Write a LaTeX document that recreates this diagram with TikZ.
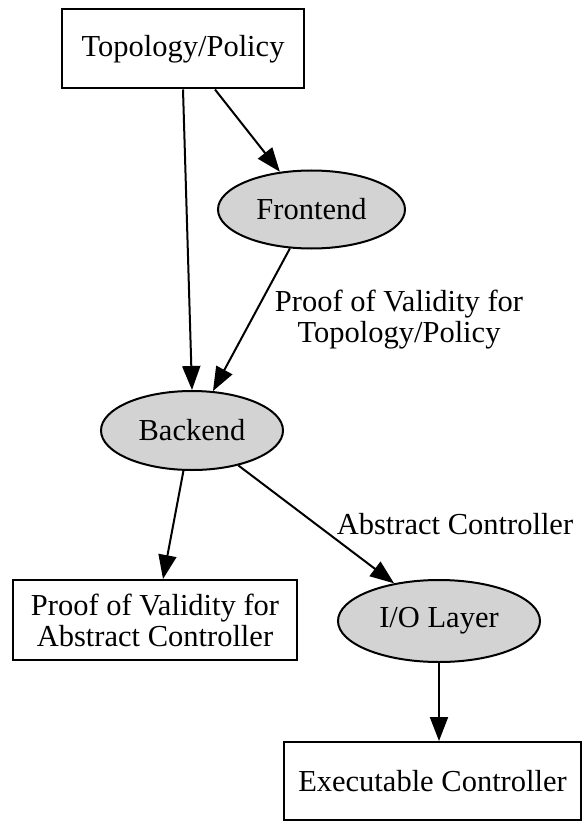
\documentclass[tikz,border=0pt]{standalone}
\usepackage{fontspec}
\setmainfont{Liberation Serif}
\usetikzlibrary{shapes.geometric,arrows.meta}
\definecolor{gvgray}{HTML}{D3D3D3}
\tikzset{
  boxnode/.style={draw, line width=2pt, rectangle, inner sep=0pt, align=center},
  ellnode/.style={draw, line width=2pt, ellipse, fill=gvgray, inner sep=0pt, align=center},
  edge/.style={line width=2pt, -{Triangle[length=24pt,width=18pt]}},
  elabel/.style={align=center, inner sep=0pt},
}
\begin{document}
\begin{tikzpicture}[x=1pt,y=-1pt,font=\fontsize{30.5}{31}\selectfont]
\useasboundingbox (0,0) rectangle (586,821);
\node[boxnode, minimum width=242pt, minimum height=79pt] (topo) at (183,49) {Topology/Policy};
\node[ellnode, minimum width=187pt, minimum height=78pt] (front) at (311.5,209.5) {Frontend};
\node[ellnode, minimum width=182pt, minimum height=79pt] (back) at (192,430.5) {Backend};
\node[boxnode, minimum width=284pt, minimum height=80pt] (proofac) at (155,620) {Proof of Validity for\\Abstract Controller};
\node[ellnode, minimum width=202pt, minimum height=82pt] (io) at (439,621) {I/O Layer};
\node[boxnode, minimum width=297pt, minimum height=78pt] (exec) at (432.5,781) {Executable Controller};

\node[elabel] (lab1) at (399,320) {Proof of Validity for\\Topology/Policy};
\node[elabel] (lab2) at (455,524) {Abstract Controller};

\draw[edge] (topo.south) -- (back.north);
\draw[edge] ([xshift=32pt]topo.south) -- (front.130);
\draw[edge] (front.241) -- (back.62);
\draw[edge] (back.258) -- ([xshift=8pt]proofac.north);
\draw[edge] (back.323) -- (io.140);
\draw[edge] (io.south) -- (io.south |- exec.north);
\end{tikzpicture}
\end{document}
